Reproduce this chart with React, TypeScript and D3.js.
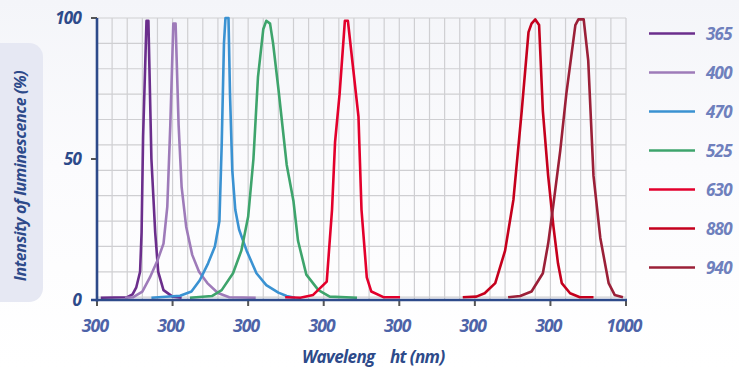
import * as d3 from "d3";

// emission spectra: [wavelength nm, intensity %]
const led365 = [[305, 0.8], [340, 1], [347, 2], [352, 4.5], [357, 10], [359, 24], [361, 58], [365.5, 99], [368, 99], [372, 50], [377, 24], [381, 10], [388, 3.5], [400, 1.2], [412, 0.8]];
const led400 = [[337, 0.8], [348, 1], [360, 3], [370, 8], [380, 14], [388, 20], [393, 33], [397, 62], [401, 98], [404, 98], [408, 62], [412, 40], [418, 26], [426, 16], [435, 10], [446, 6], [460, 2.5], [475, 1], [510, 0.8]];
const led470 = [[372, 0.8], [410, 1.5], [425, 3], [436, 7], [447, 13], [456, 19], [462, 28], [465, 55], [468, 91], [470, 100], [474, 100], [476, 73], [479, 46], [483, 32], [488, 25], [498, 17.5], [511, 9.5], [524, 5.3], [540, 2.6], [551, 1.4], [562, 0.8]];
const led525 = [[423, 0.8], [452, 1.4], [465, 3.5], [480, 9.5], [491, 17.5], [500, 29.5], [507, 50], [513, 79], [520, 96], [524, 99], [529, 98], [533, 91], [540, 75], [551, 48], [560, 35], [566, 21], [577, 9], [593, 3.5], [608, 1.2], [644, 0.8]];
const led630 = [[549, 1], [569, 0.8], [586, 1.8], [604, 6.5], [611, 32], [615, 56], [621, 73], [628, 99], [632, 99], [639, 82], [646, 65], [650, 32], [657, 8], [663, 3], [679, 1], [701, 1]];
const led880 = [[784, 1], [802, 1.2], [813, 2.4], [827, 6], [840, 17.5], [851, 35.5], [862, 67], [871, 95], [875, 98], [880, 99.5], [885, 97.5], [890, 67], [897, 44], [904, 26], [910, 13], [915, 6], [926, 2.4], [939, 1], [957, 1]];
const led940 = [[844, 1], [860, 1.4], [875, 3], [890, 9.5], [897, 20], [904, 34], [913, 53], [921, 73], [933, 97.5], [937, 99.5], [944, 99.5], [950, 85], [957, 44], [966, 22], [977, 6], [985, 1.8], [996, 1]];

const seriesNames = ["365", "400", "470", "525", "630", "880", "940"];
const seriesData = [led365, led400, led470, led525, led630, led880, led940];
const seriesColors = ["#6b2e8c", "#9e7bb9", "#3a92d2", "#3ea46c", "#e3002c", "#c5001d", "#9b2038"];

const xTickValues = [300, 400, 500, 600, 700, 800, 900, 1000];
const xTickLabels = ["300", "300", "300", "300", "300", "300", "300", "1000"];
const yTickValues = [0, 50, 100];
const xGridValues = d3.range(320, 1001, 20);
const yGridValues = d3.range(100, 0, -9);

const width = 739;
const height = 368;
const marginLeft = 97;
const marginRight = 113;
const marginTop = 18;
const marginBottom = 68;

const navy = "#2d4a8a";
const font = "'Open Sans', sans-serif";

export default function App() {
  const x = d3.scaleLinear([300, 1000], [marginLeft, width - marginRight]);
  const y = d3.scaleLinear([0, 100], [height - marginBottom, marginTop]);
  const line = d3.line<number[]>()
    .x(d => x(d[0]))
    .y(d => y(d[1]));

  const x0 = x(300), x1 = x(1000), y0 = y(0), y1 = y(100);

  return (
    <svg width={width} height={height} style={{ position: "absolute", left: 0, top: 0 }}>
      <defs>
        <linearGradient id="bg" x1="0" y1="0" x2="0" y2="1">
          <stop offset="0" stopColor="#f4f5f9" />
          <stop offset="0.45" stopColor="#fbfbfd" />
          <stop offset="1" stopColor="#ffffff" />
        </linearGradient>
      </defs>
      <rect width={width} height={height} fill="url(#bg)" />

      {/* y title box */}
      <rect x={-20} y={43} width={63} height={259} rx={14} fill="#e6e8f3" />
      <text
        transform={`translate(26, 176) rotate(-90)`}
        textAnchor="middle"
        fontFamily={font}
        fontWeight={700}
        fontStyle="italic"
        fontSize={16}
        fill={navy}
        letterSpacing={-0.4}
      >
        Intensity of luminescence (%)
      </text>

      {/* grid */}
      <g stroke="#cfcfd2" strokeWidth={1.2}>
        {xGridValues.map(v => (
          <line key={"gx" + v} x1={x(v)} x2={x(v)} y1={y1} y2={y0} />
        ))}
        {yGridValues.map(v => (
          <line key={"gy" + v} x1={x0} x2={x1} y1={y(v)} y2={y(v)} />
        ))}
      </g>

      {/* series */}
      <g fill="none" strokeWidth={2.6} strokeLinejoin="round">
        {seriesData.map((d, i) => (
          <path key={seriesNames[i]} d={line(d) ?? ""} stroke={seriesColors[i]} />
        ))}
      </g>

      {/* axes */}
      <g stroke="#555" strokeWidth={2}>
        {yTickValues.map(v => (
          <line key={"yt" + v} x1={x0 - 6} x2={x0} y1={y(v)} y2={y(v)} />
        ))}
        {xTickValues.map(v => (
          <line key={"xt" + v} x1={x(v)} x2={x(v)} y1={y0} y2={y0 + 6} />
        ))}
      </g>
      <line x1={x0} x2={x0} y1={y1} y2={y0 + 1.5} stroke={navy} strokeWidth={2.6} />
      <line x1={x0 - 6} x2={x1 + 1} y1={y0} y2={y0} stroke={navy} strokeWidth={2.6} />

      {/* y tick labels */}
      {yTickValues.map(v => (
        <text
          key={"yl" + v}
          x={x0 - 16}
          y={y(v) + 6}
          textAnchor="end"
          fontFamily={font}
          fontWeight={700}
          fontStyle="italic"
          fontSize={17}
          letterSpacing={-0.8}
          fill={navy}
        >
          {v}
        </text>
      ))}

      {/* x tick labels */}
      {xTickValues.map((v, i) => (
        <text
          key={"xl" + v}
          x={x(v) - 2}
          y={y0 + 32}
          textAnchor="middle"
          fontFamily={font}
          fontWeight={700}
          fontStyle="italic"
          fontSize={17.5}
          letterSpacing={-0.8}
          fill="#4d63a8"
        >
          {xTickLabels[i]}
        </text>
      ))}

      {/* x title */}
      <text
        x={302}
        y={363}
        fontFamily={font}
        fontWeight={700}
        fontStyle="italic"
        fontSize={17}
        letterSpacing={-0.6}
        fill={navy}
        style={{ whiteSpace: "pre" }}
      >
        {"Waveleng    ht (nm)"}
      </text>

      {/* legend */}
      {seriesNames.map((name, i) => {
        const ly = 33.5 + i * 39;
        return (
          <g key={"lg" + name}>
            <line x1={649} x2={695} y1={ly} y2={ly} stroke={seriesColors[i]} strokeWidth={2.6} />
            <text
              x={706}
              y={ly + 6}
              fontFamily={font}
              fontWeight={700}
              fontStyle="italic"
              fontSize={17}
              letterSpacing={-0.8}
              fill="#6f80bd"
            >
              {name}
            </text>
          </g>
        );
      })}
    </svg>
  );
}
